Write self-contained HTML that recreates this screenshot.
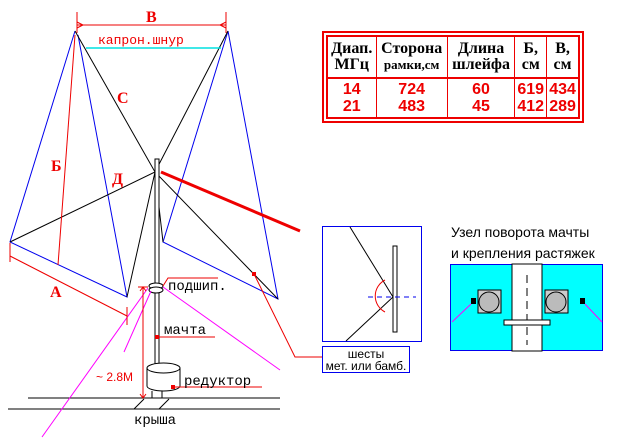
<!DOCTYPE html>
<html><head><meta charset="utf-8"><style>
body{margin:0;background:#fff;width:640px;height:442px;overflow:hidden;position:relative;font-family:"Liberation Sans",sans-serif}
table{position:absolute;left:326px;top:35px;width:254px;height:84px;border-collapse:collapse;outline:2px solid #e00;outline-offset:2px;border:2px solid #e00}
td{border-left:1px solid #e00;text-align:center;padding:0;font-family:"Liberation Serif",serif;font-weight:bold;font-size:16px;line-height:16px}
tr.h td{border-bottom:2px solid #e00;height:40px}
tr.d td{color:#e00;font-family:"Liberation Sans",sans-serif;font-size:16px;line-height:17px}
</style></head><body>
<svg width="640" height="442" style="position:absolute;left:0;top:0" font-family="Liberation Mono, monospace">
<g stroke="#0000ee" fill="none" stroke-width="1">
<path d="M75 31 L10 242 L127 297 L78 35"/>
<path d="M228 31 L278 299 L163 242 L228 31"/>
</g>
<g stroke="#000" fill="none" stroke-width="1">
<path d="M75 31 L155 172 L278 299"/>
<path d="M228 31 L155 172 L10 242"/>
<path d="M127 297 L155 172 L163 242"/>
</g>
<!-- mast -->
<rect x="155" y="159" width="4" height="206" fill="#fff" stroke="#000"/>
<ellipse cx="156" cy="286" rx="7" ry="3" fill="#fff" stroke="#000"/>
<ellipse cx="156" cy="290" rx="7" ry="3" fill="#fff" stroke="#000"/>
<path d="M147 368 L147 386 A16.5 5 0 0 0 180 386 L180 368" fill="#fff" stroke="#000"/>
<ellipse cx="163.5" cy="368" rx="16.5" ry="5" fill="#fff" stroke="#000"/>
<path d="M152 391 V398 M162 391 V398" stroke="#000"/>
<path d="M28 398 H280 M8 409 H280 M134 409 L144 399 M159 409 L169 399" stroke="#000" fill="none"/>
<!-- magenta guys -->
<g stroke="#ff00ff" fill="none">
<path d="M148 288 L42 437 M151 291 L124 352 M163 287 L280 370"/>
</g>
<!-- red dims -->
<g stroke="#e00" fill="none">
<path d="M77 12 V33 M226 12 V33 M77 25 H226"/>
<path d="M75 35 L58 265"/>
<path d="M10 243 V262 M10 256 L127 316 M127 307 V325"/>
<path d="M143 287 V398 M163 286 L168 278 H218 M157 337 H215 M173 387 H262"/>
<path d="M254 274 L295 357 H322"/>
</g>
<rect x="252" y="272" width="4" height="4" fill="#e00"/>
<rect x="155" y="335" width="4" height="4" fill="#e00"/>
<rect x="171" y="385" width="4" height="4" fill="#e00"/>
<path d="M161 172 L300 231" stroke="#e00" stroke-width="3"/>
<path d="M77 22 l6 3 l-6 3 M226 22 l-6 3 l6 3 M140 291 l3 -4 l3 4 M140 394 l3 4 l3 -4 M138 287 H148" stroke="#e00" fill="none"/>
<path d="M86 48 H221" stroke="#00e0e0" stroke-width="1.5"/>
<g fill="#e00" font-family="Liberation Serif, serif" font-weight="bold" font-size="16">
<text x="146" y="22">В</text><text x="117" y="103">С</text><text x="51" y="171">Б</text><text x="112" y="184">Д</text><text x="50" y="297">А</text>
</g>
<text x="98" y="44" fill="#e00" font-size="13">капрон.шнур</text>
<g font-size="14" fill="#000">
<text x="168" y="290">подшип.</text><text x="164" y="334">мачта</text><text x="184" y="385">редуктор</text><text x="134" y="424">крыша</text>
</g>
<text x="96" y="381" fill="#e00" font-family="Liberation Sans, sans-serif" font-size="12">~ 2.8M</text>
<!-- detail box -->
<rect x="322.5" y="226.5" width="99" height="115" fill="#fff" stroke="#0000ee"/>
<path d="M350 227 L393 297 M346 341 L393 297" stroke="#000"/>
<rect x="393" y="246" width="4" height="86" fill="#fff" stroke="#000"/>
<path d="M368 297 H416" stroke="#0000ee" stroke-dasharray="5 4"/>
<path d="M385 280 A18 18 0 0 0 385 312" stroke="#e00" fill="none"/>
<rect x="322.5" y="346.5" width="87" height="26" fill="#fff" stroke="#0000ee"/>
<text x="366" y="358" font-family="Liberation Sans, sans-serif" font-size="12" text-anchor="middle">шесты</text>
<text x="366" y="370" font-family="Liberation Sans, sans-serif" font-size="12" text-anchor="middle">мет. или бамб.</text>
<text x="451" y="237" font-family="Liberation Sans, sans-serif" font-size="14">Узел поворота мачты</text>
<text x="451" y="258" font-family="Liberation Sans, sans-serif" font-size="14">и крепления растяжек</text>
<rect x="450.5" y="264.5" width="152" height="86" fill="#00ffff" stroke="#0000ee"/>
<rect x="512" y="264" width="30" height="87" fill="#fff" stroke="#000"/>
<path d="M527 275 V345" stroke="#000" stroke-dasharray="8 5"/>
<rect x="478" y="290" width="23" height="23" fill="#ccc" stroke="#000"/>
<rect x="545" y="290" width="23" height="23" fill="#ccc" stroke="#000"/>
<circle cx="489" cy="302" r="10" fill="#bbb" stroke="#000"/>
<circle cx="556" cy="302" r="10" fill="#bbb" stroke="#000"/>
<rect x="471" y="298" width="5" height="6" fill="#000"/><rect x="580" y="298" width="5" height="6" fill="#000"/>
<rect x="504" y="320" width="46" height="5" fill="#fff" stroke="#000"/>
<path d="M452 322 L471 304 M602 322 L585 304" stroke="#ff00ff"/>
</svg>
<table>
<tr class="h"><td style="border-left:0">Диап.<br>МГц</td><td>Сторона<br><span style="font-size:13px">рамки,см</span></td><td>Длина<br>шлейфа</td><td>Б,<br>см</td><td>В,<br>см</td></tr>
<tr class="d"><td style="border-left:0">14<br>21</td><td>724<br>483</td><td>60<br>45</td><td>619<br>412</td><td>434<br>289</td></tr>
</table>
</body></html>
